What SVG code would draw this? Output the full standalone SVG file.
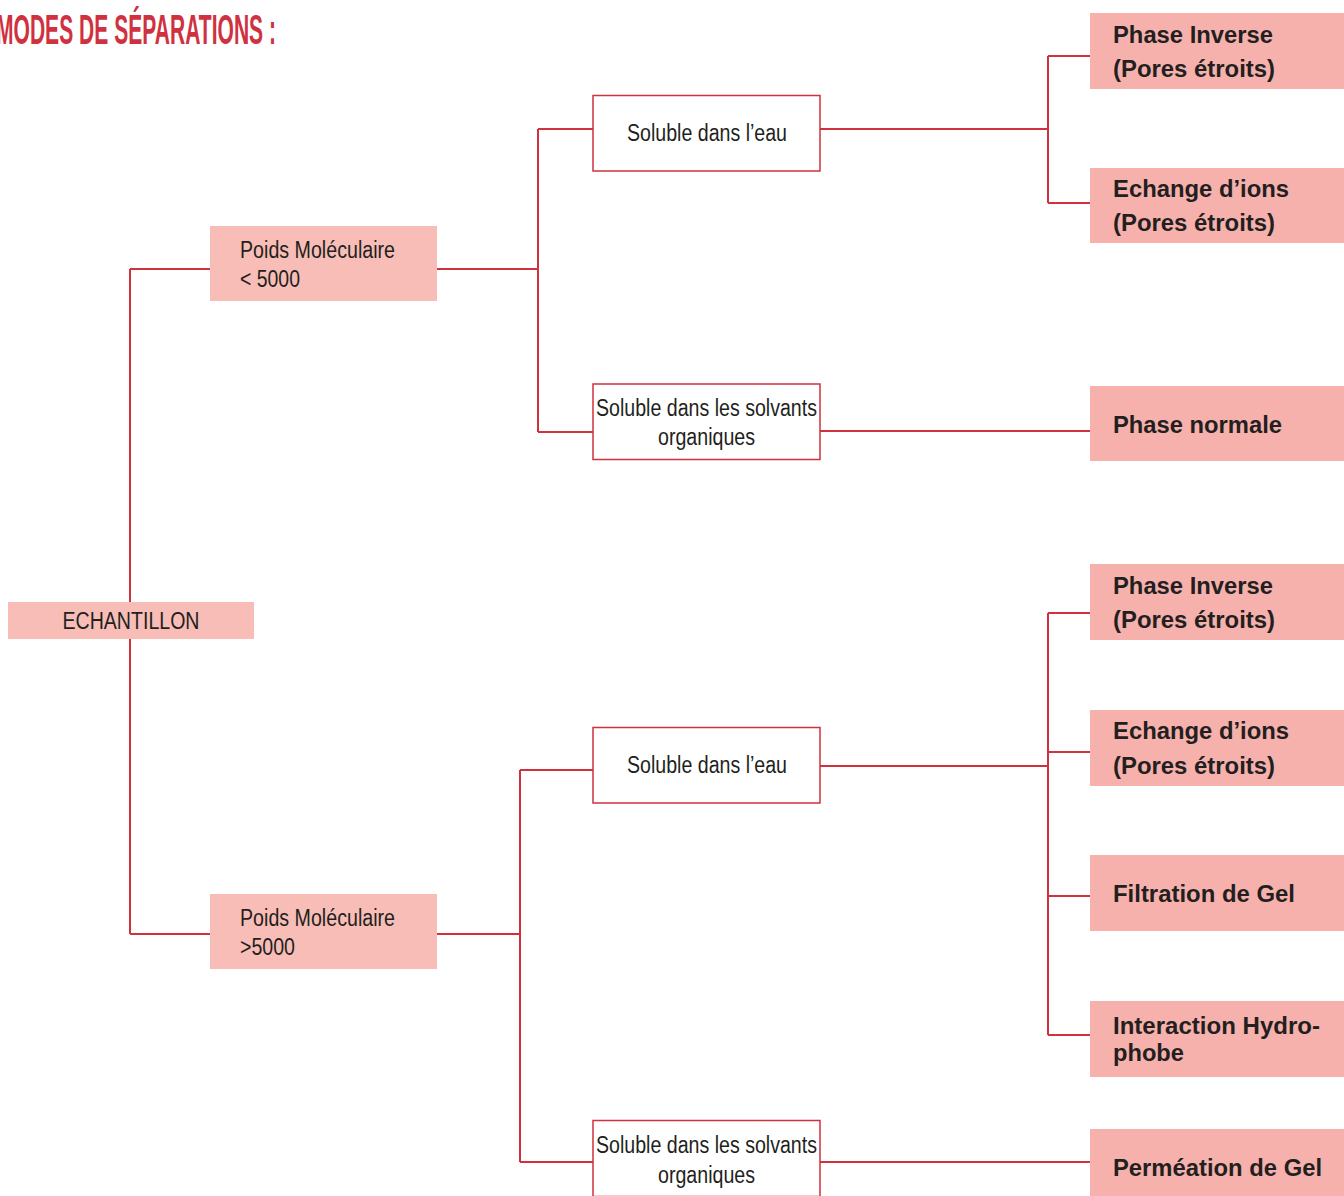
<svg xmlns="http://www.w3.org/2000/svg" width="1344" height="1196" viewBox="0 0 1344 1196">
<style>
.c{fill:none;stroke:#d0313f;stroke-width:2}
.pk{fill:#f8bdb7}
.rt{fill:#f7b1ad}
.wb{fill:#fff;stroke:#d0313f;stroke-width:1.5}
.t{font-family:"Liberation Sans",Arial,sans-serif;font-size:23px;fill:#231f20}
.b{font-family:"Liberation Sans",Arial,sans-serif;font-size:23.5px;font-weight:bold;fill:#231f20}
.title{font-family:"Liberation Sans",Arial,sans-serif;font-size:43px;font-weight:bold;fill:#d0313f}
</style>
<rect width="1344" height="1196" fill="#fff"/>
<text class="title" x="-4" y="44" textLength="280" lengthAdjust="spacingAndGlyphs">MODES DE SÉPARATIONS :</text>
<g id="connectors">
<path class="c" d="M130 269V934M130 269H210M130 934H210"/>
<path class="c" d="M437 269H538M538 129V432M538 129H593M538 432H593"/>
<path class="c" d="M820 129H1048M1048 56V203M1048 56H1090M1048 203H1090"/>
<path class="c" d="M820 431H1090"/>
<path class="c" d="M437 934H520M520 770V1162M520 770H593M520 1162H593"/>
<path class="c" d="M820 766H1048M1048 613V1035M1048 613H1090M1048 752H1090M1048 896H1090M1048 1035H1090"/>
<path class="c" d="M820 1162H1092"/>
</g>
<g id="echantillon"><rect class="pk" x="8" y="602" width="246" height="37"/><text class="t" x="131" y="629" text-anchor="middle" textLength="137" lengthAdjust="spacingAndGlyphs">ECHANTILLON</text></g>
<g id="pm-lt5000"><rect class="pk" x="210" y="226" width="227" height="75"/><text class="t" x="240" y="258" textLength="155" lengthAdjust="spacingAndGlyphs">Poids Moléculaire</text><text class="t" x="240" y="287" textLength="60" lengthAdjust="spacingAndGlyphs">&lt; 5000</text></g>
<g id="pm-gt5000"><rect class="pk" x="210" y="894" width="227" height="75"/><text class="t" x="240" y="926" textLength="155" lengthAdjust="spacingAndGlyphs">Poids Moléculaire</text><text class="t" x="240" y="955" textLength="55" lengthAdjust="spacingAndGlyphs">&gt;5000</text></g>
<g id="eau1"><rect class="wb" x="593" y="95.5" width="227" height="75.5"/><text class="t" x="707" y="141" text-anchor="middle" textLength="160" lengthAdjust="spacingAndGlyphs">Soluble dans l’eau</text></g>
<g id="solv1"><rect class="wb" x="593" y="384" width="227" height="75.5"/><text class="t" x="706.5" y="416" text-anchor="middle" textLength="221" lengthAdjust="spacingAndGlyphs">Soluble dans les solvants</text><text class="t" x="706.5" y="445" text-anchor="middle" textLength="97" lengthAdjust="spacingAndGlyphs">organiques</text></g>
<g id="eau2"><rect class="wb" x="593" y="727.5" width="227" height="75.5"/><text class="t" x="707" y="773" text-anchor="middle" textLength="160" lengthAdjust="spacingAndGlyphs">Soluble dans l’eau</text></g>
<g id="solv2"><rect class="wb" x="593" y="1120.5" width="227" height="76"/><text class="t" x="706.5" y="1153" text-anchor="middle" textLength="221" lengthAdjust="spacingAndGlyphs">Soluble dans les solvants</text><text class="t" x="706.5" y="1183" text-anchor="middle" textLength="97" lengthAdjust="spacingAndGlyphs">organiques</text></g>
<g id="pi1"><rect class="rt" x="1090" y="13" width="254" height="76"/><text class="b" x="1113" y="43" textLength="160" lengthAdjust="spacingAndGlyphs">Phase Inverse</text><text class="b" x="1113" y="77" textLength="162" lengthAdjust="spacingAndGlyphs">(Pores étroits)</text></g>
<g id="ei1"><rect class="rt" x="1090" y="168" width="254" height="75"/><text class="b" x="1113" y="197" textLength="176" lengthAdjust="spacingAndGlyphs">Echange d’ions</text><text class="b" x="1113" y="231" textLength="162" lengthAdjust="spacingAndGlyphs">(Pores étroits)</text></g>
<g id="pn"><rect class="rt" x="1090" y="386" width="254" height="75"/><text class="b" x="1113" y="433" textLength="169" lengthAdjust="spacingAndGlyphs">Phase normale</text></g>
<g id="pi2"><rect class="rt" x="1090" y="564" width="254" height="76"/><text class="b" x="1113" y="594" textLength="160" lengthAdjust="spacingAndGlyphs">Phase Inverse</text><text class="b" x="1113" y="628" textLength="162" lengthAdjust="spacingAndGlyphs">(Pores étroits)</text></g>
<g id="ei2"><rect class="rt" x="1090" y="710" width="254" height="76"/><text class="b" x="1113" y="739" textLength="176" lengthAdjust="spacingAndGlyphs">Echange d’ions</text><text class="b" x="1113" y="774" textLength="162" lengthAdjust="spacingAndGlyphs">(Pores étroits)</text></g>
<g id="fg"><rect class="rt" x="1090" y="855" width="254" height="76"/><text class="b" x="1113" y="902" textLength="182" lengthAdjust="spacingAndGlyphs">Filtration de Gel</text></g>
<g id="ih"><rect class="rt" x="1090" y="1001" width="254" height="76"/><text class="b" x="1113" y="1034" textLength="207" lengthAdjust="spacingAndGlyphs">Interaction Hydro-</text><text class="b" x="1113" y="1061" textLength="71" lengthAdjust="spacingAndGlyphs">phobe</text></g>
<g id="pg"><rect class="rt" x="1090" y="1129" width="254" height="67"/><text class="b" x="1113" y="1176" textLength="209" lengthAdjust="spacingAndGlyphs">Perméation de Gel</text></g>
</svg>
